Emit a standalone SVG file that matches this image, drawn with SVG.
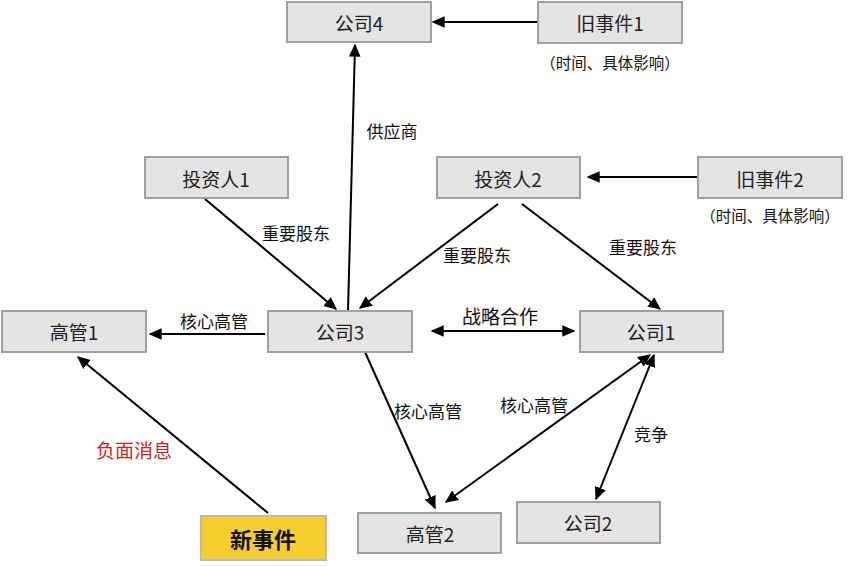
<svg xmlns="http://www.w3.org/2000/svg" width="852" height="566" viewBox="0 0 852 566">
<defs>
<marker id="ah" viewBox="0 0 10 10" refX="9" refY="5" markerWidth="13" markerHeight="13" markerUnits="userSpaceOnUse" orient="auto-start-reverse">
<path d="M0,0.5 L10,5 L0,9.5 Z" fill="#000"/>
</marker>
<style>
.box{fill:#e4e4e4;stroke:#a0a0a0;stroke-width:2}
.t{font-family:"Noto Sans CJK SC","Noto Sans",sans-serif;font-size:19px;fill:#222;text-anchor:middle;dominant-baseline:central}
.lb{font-family:"Noto Sans CJK SC","Noto Sans",sans-serif;font-size:17px;fill:#111;text-anchor:middle;dominant-baseline:central}
.cap{font-family:"Noto Sans CJK SC","Noto Sans",sans-serif;font-size:15.5px;fill:#111;text-anchor:middle;dominant-baseline:central}
.ln{stroke:#000;stroke-width:2;fill:none}
</style>
</defs>
<rect width="852" height="566" fill="#fff"/>
<g id="connectors">
<line class="ln" x1="538" y1="22" x2="433" y2="22" marker-end="url(#ah)"/>
<line class="ln" x1="348" y1="311" x2="355" y2="45" marker-end="url(#ah)"/>
<line class="ln" x1="698" y1="177" x2="588" y2="177" marker-end="url(#ah)"/>
<line class="ln" x1="205" y1="199" x2="336" y2="309" marker-end="url(#ah)"/>
<line class="ln" x1="498" y1="204" x2="360" y2="308" marker-end="url(#ah)"/>
<line class="ln" x1="522" y1="204" x2="660" y2="309" marker-end="url(#ah)"/>
<line class="ln" x1="265" y1="334" x2="150" y2="334" marker-end="url(#ah)"/>
<line class="ln" x1="432" y1="331" x2="574" y2="331" marker-start="url(#ah)" marker-end="url(#ah)"/>
<line class="ln" x1="268" y1="513" x2="78" y2="357" marker-end="url(#ah)"/>
<line class="ln" x1="365" y1="352" x2="435" y2="508" marker-end="url(#ah)"/>
<line class="ln" x1="650" y1="355" x2="446" y2="502" marker-start="url(#ah)" marker-end="url(#ah)"/>
<line class="ln" x1="654" y1="355" x2="596" y2="499" marker-start="url(#ah)" marker-end="url(#ah)"/>
<text class="lb" x="392" y="130">供应商</text>
<text class="lb" x="296" y="232">重要股东</text>
<text class="lb" x="477" y="254">重要股东</text>
<text class="lb" x="643" y="246">重要股东</text>
<text class="lb" x="214" y="320">核心高管</text>
<text class="lb" x="500" y="315" style="font-size:19px">战略合作</text>
<text class="lb" x="134" y="449" style="fill:#c8261e;font-size:19px">负面消息</text>
<text class="lb" x="428" y="410">核心高管</text>
<text class="lb" x="534" y="404">核心高管</text>
<text class="lb" x="651" y="433">竞争</text>
</g>
<g id="n-company4"><rect class="box" x="287" y="2" width="144" height="40"/><text class="t" x="359" y="22">公司4</text></g>
<g id="n-old1"><rect class="box" x="538" y="2" width="144" height="41"/><text class="t" x="610" y="22">旧事件1</text><text class="cap" x="610" y="62">（时间、具体影响）</text></g>
<g id="n-inv1"><rect class="box" x="145" y="157" width="143" height="41"/><text class="t" x="216" y="178">投资人1</text></g>
<g id="n-inv2"><rect class="box" x="437" y="157" width="143" height="41"/><text class="t" x="508" y="178">投资人2</text></g>
<g id="n-old2"><rect class="box" x="698" y="157" width="144" height="41"/><text class="t" x="770" y="178">旧事件2</text><text class="cap" x="770" y="215">（时间、具体影响）</text></g>
<g id="n-exec1"><rect class="box" x="2" y="311" width="144" height="41"/><text class="t" x="74" y="331">高管1</text></g>
<g id="n-company3"><rect class="box" x="268" y="311" width="144" height="41"/><text class="t" x="340" y="331">公司3</text></g>
<g id="n-company1"><rect class="box" x="580" y="311" width="143" height="41"/><text class="t" x="651" y="331">公司1</text></g>
<g id="n-new"><rect x="201" y="516" width="125" height="44" fill="#f5cf2f" stroke="#b9b9b9" stroke-width="2"/><text class="t" x="263" y="538" style="font-size:22px;font-weight:bold;fill:#111">新事件</text></g>
<g id="n-exec2"><rect class="box" x="358" y="513" width="143" height="40"/><text class="t" x="430" y="533">高管2</text></g>
<g id="n-company2"><rect class="box" x="517" y="502" width="143" height="41"/><text class="t" x="588" y="522">公司2</text></g>
</svg>
